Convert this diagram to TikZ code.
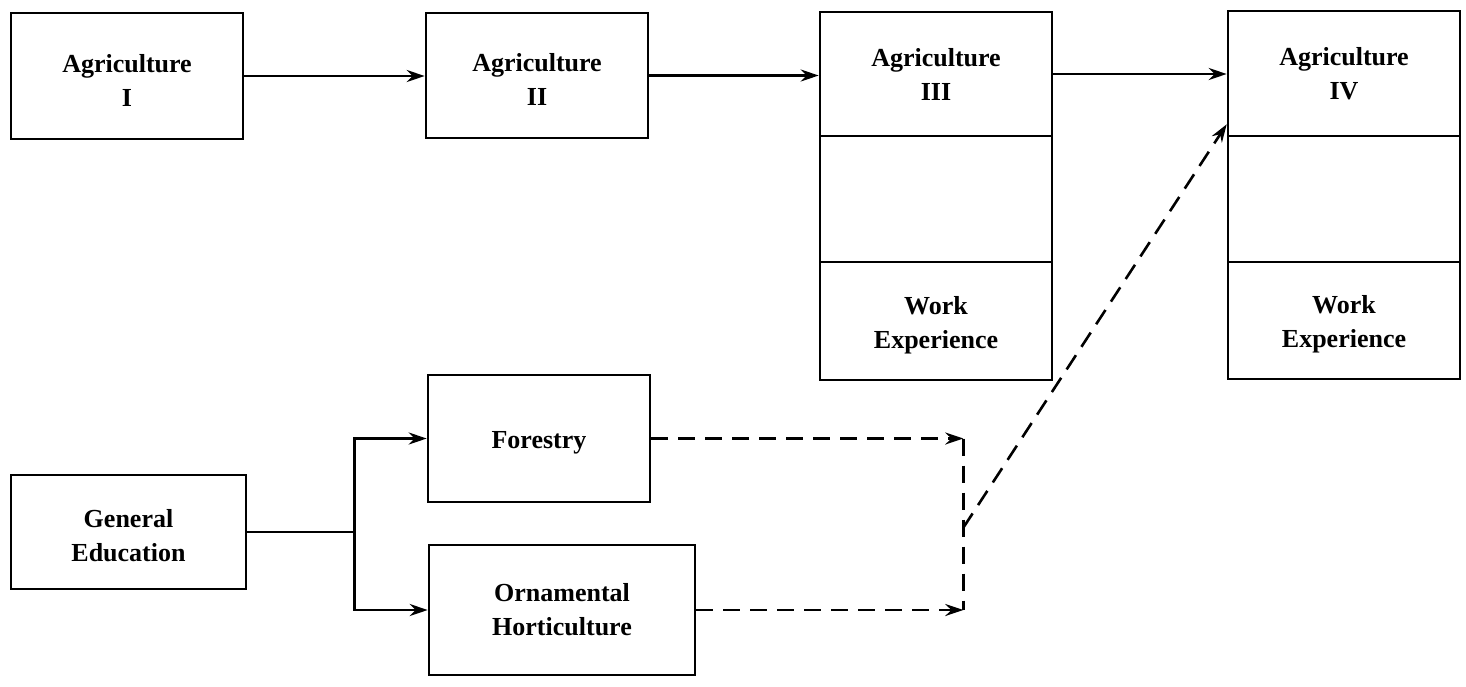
\documentclass[tikz,border=0pt]{standalone}
\usepackage{fontspec}
\setmainfont{Liberation Serif}
\usetikzlibrary{arrows.meta,calc}
\newcommand{\tpstrut}{\rule{0pt}{26pt}}
\begin{document}
\begin{tikzpicture}[x=1pt,y=-1pt,
 box/.style={draw, line width=2.6pt, align=center, inner sep=0pt, font=\bfseries\fontsize{26}{34}\selectfont},
 conn/.style={line width=2.6pt, -{Stealth[length=18pt,width=12pt,inset=6pt]}},
 dconn/.style={conn, dash pattern=on 17pt off 10pt},
 dline/.style={line width=2.6pt, dash pattern=on 17pt off 10pt}]
\useasboundingbox (0,0) rectangle (1466,686);
% top row
\node[box, minimum width=232pt, minimum height=126pt] (a1) at (127,76) {\tpstrut Agriculture\\I};
\node[box, minimum width=222pt, minimum height=125pt] (a2) at (537,75.5) {\tpstrut Agriculture\\II};
\node[box, minimum width=232pt, minimum height=124pt] (a3t) at (936,74) {Agriculture\\III};
\node[box, minimum width=232pt, minimum height=126pt] (a3m) at (936,199) {};
\node[box, minimum width=232pt, minimum height=118pt] (a3b) at (936,321) {\tpstrut Work\\Experience};
\node[box, minimum width=232pt, minimum height=125pt] (a4t) at (1344,73.5) {Agriculture\\IV};
\node[box, minimum width=232pt, minimum height=126pt] (a4m) at (1344,199) {};
\node[box, minimum width=232pt, minimum height=117pt] (a4b) at (1344,320.5) {\tpstrut Work\\Experience};
% bottom
\node[box, minimum width=235pt, minimum height=114pt] (ge) at (128.5,532) {\tpstrut General\\Education};
\node[box, minimum width=222pt, minimum height=127pt] (for) at (539,438.5) {\tpstrut Forestry};
\node[box, minimum width=266pt, minimum height=130pt] (orn) at (562,610) {Ornamental\\Horticulture};
% connectors
\draw[conn] (a1.east) -- (a1.east -| a2.west);
\draw[conn] (a2.east) -- (a2.east -| a3t.west);
\draw[conn] (a3t.east) -- (a3t.east -| a4t.west);
\coordinate (j) at ([xshift=107pt]ge.east);
\draw[line width=2.6pt] (ge.east) -- (j);
\draw[conn] (j) |- (for.west);
\draw[conn] (j) |- (orn.west);
\coordinate (c1) at ([xshift=312pt]for.east);
\coordinate (c2) at (c1 |- orn.east);
\draw[dconn] (for.east) -- (c1);
\draw[dconn] (orn.east) -- (c2);
\draw[dline] (c1) -- (c2);
\coordinate (cm) at ($(c1)!0.52!(c2)$);
\draw[dconn] (cm) -- ([yshift=13pt]a4t.south west);
\end{tikzpicture}
\end{document}
